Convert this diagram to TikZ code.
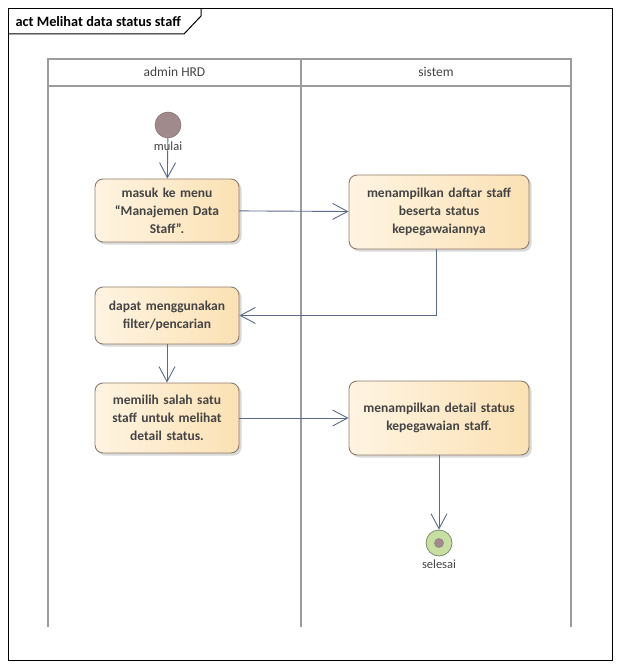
\documentclass[tikz,border=0pt]{standalone}
\usepackage{fontspec}
\setmainfont{Carlito}
\usetikzlibrary{arrows.meta,shadows,calc}
\definecolor{flow}{HTML}{5B6A88}
\definecolor{boxline}{HTML}{8E7B6B}
\definecolor{boxlight}{HTML}{FFF4E2}
\definecolor{boxdeep}{HTML}{FBE1B4}
\definecolor{lanegray}{HTML}{9C9C9C}
\definecolor{txt}{HTML}{444444}
\definecolor{startfill}{HTML}{A08A8C}
\definecolor{endfill}{HTML}{C7E0A2}
\definecolor{endline}{HTML}{7F8C6C}
\tikzset{
  action/.style={draw=boxline, line width=0.9pt, rounded corners=8pt,
    left color=boxlight, right color=boxdeep, text=txt,
    font=\fontsize{13.5}{18}\selectfont\bfseries, align=center,
    inner sep=2pt,
    drop shadow={shadow xshift=2.5pt, shadow yshift=-2.5pt, opacity=0.25, fill=black!60}},
  flowline/.style={draw=flow, line width=0.9pt, -{Straight Barb[length=15pt,width=16pt,line width=0.9pt]}},
  lane/.style={draw=lanegray, line width=2pt},
  caption/.style={text=txt, font=\fontsize{12.5}{14}\selectfont},
}
\begin{document}
\begin{tikzpicture}[x=1pt,y=-1pt]
\useasboundingbox (0,0) rectangle (620,668);
% outer frame and title tab
\draw[black, line width=1pt] (8,9) rectangle (612,660);
\draw[black, line width=1pt] (8,34) -- (184,34) -- (201,16) -- (201,9);
\node[anchor=west, font=\fontsize{14.3}{16}\selectfont\bfseries] (title) at (12,21.5) {act Melihat data status staff};
% swimlanes
\draw[lane] (48,627) -- (48,59) -- (571,59) -- (571,627);
\draw[lane] (301,59) -- (301,627);
\draw[lane] (48,86) -- (571,86);
\node[caption, font=\fontsize{13.5}{15}\selectfont] (laneA) at (174.5,72) {admin HRD};
\node[caption, font=\fontsize{13.5}{15}\selectfont] (laneB) at (436,72) {sistem};
% start node
\node[circle, fill=startfill, draw=startfill!80!black, line width=0.5pt, minimum size=26pt, inner sep=0pt] (start) at (168,125) {};
% actions
\node[action, minimum width=144pt, minimum height=63pt, text width=138pt] (a1) at (167,210.5) {masuk ke menu\\“Manajemen Data\\Staff”.};
\node[action, minimum width=180pt, minimum height=74pt, text width=174pt] (a2) at (439,212) {menampilkan daftar staff\\beserta status\\kepegawaiannya};
\node[action, minimum width=144pt, minimum height=57pt, text width=138pt] (a3) at (167,315.5) {dapat menggunakan\\filter/pencarian};
\node[action, minimum width=144pt, minimum height=70pt, text width=138pt] (a4) at (167,418) {memilih salah satu\\staff untuk melihat\\detail status.};
\node[action, minimum width=180pt, minimum height=74pt, text width=174pt] (a5) at (439,418) {menampilkan detail status\\kepegawaian staff.};
% final node
\node[circle, fill=endfill, draw=endline, line width=0.8pt, minimum size=26pt, inner sep=0pt] (stop) at (439,543) {};
\node[circle, fill=startfill, minimum size=10pt, inner sep=0pt] (stopdot) at (stop) {};
% flows
\draw[flowline] (start) -- (a1);
\node[caption] (startlbl) at (168,146) {mulai};
\draw[flowline] (a1) -- (a2);
\draw[flowline] (a2.south -| 436,0) |- (a3.east);
\draw[flowline] (a3) -- (a4);
\draw[flowline] (a4) -- (a5);
\draw[flowline] (a5) -- (stop);
\node[caption] (stoplbl) at (439,564) {selesai};
\end{tikzpicture}
\end{document}
